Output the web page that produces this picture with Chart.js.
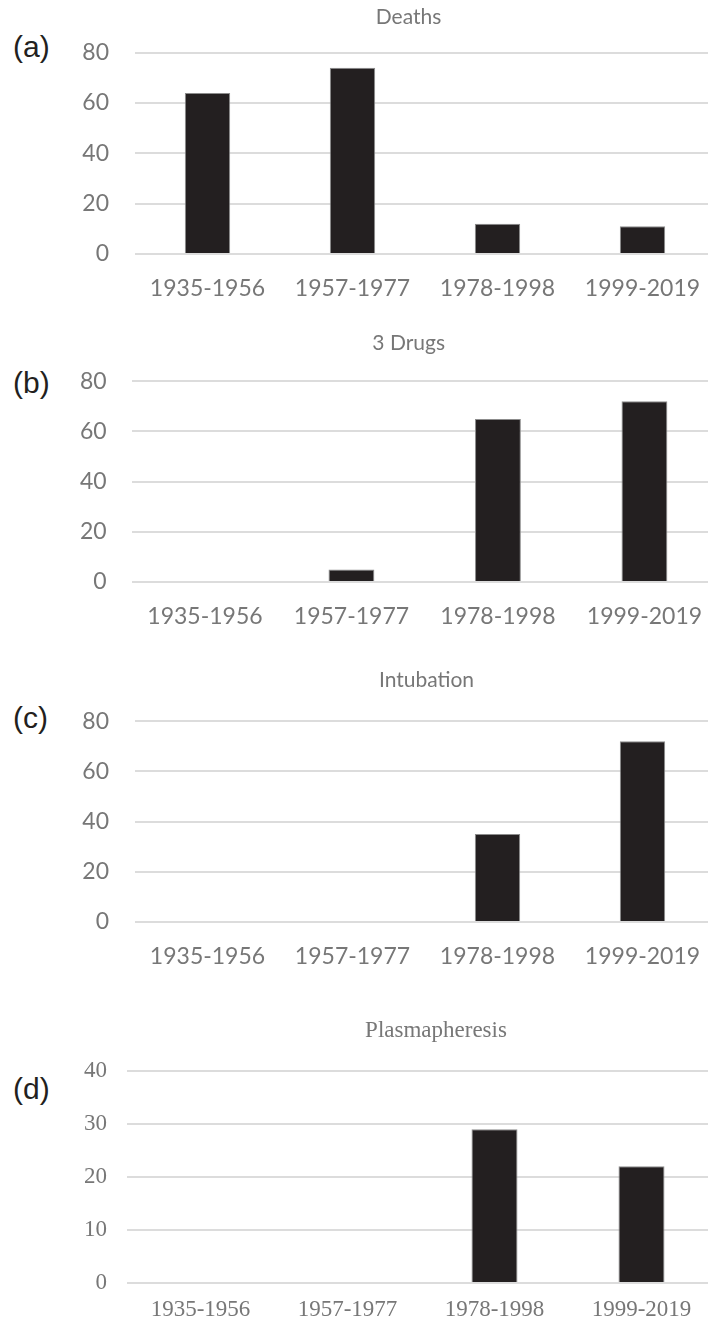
<!DOCTYPE html>
<html>
<head>
<meta charset="utf-8">
<script src="https://cdn.jsdelivr.net/npm/chart.js@4.4.1/dist/chart.umd.min.js"></script>
<style>
    html, body { margin: 0; padding: 0; background: #fff; }
    body { width: 708px; height: 1320px; overflow: hidden; position: relative; }
    canvas { position: absolute; left: 0; }
    .lettre { position: absolute; left: 13px; font: 30px/30px "Liberation Sans", Arial, sans-serif; color: #231f20; }
</style>
</head>
<body>
<div class="lettre" style="top:32px">(a)</div>
<div class="lettre" style="top:368px">(b)</div>
<div class="lettre" style="top:703px">(c)</div>
<div class="lettre" style="top:1074px">(d)</div>

<canvas id="chart-a"></canvas>
<canvas id="chart-b"></canvas>
<canvas id="chart-c"></canvas>
<canvas id="chart-d"></canvas>

<script>
// data
const periodes = ['1935-1956', '1957-1977', '1978-1998', '1999-2019'];
const deces = [64, 74, 12, 11];
const troisMedicaments = [0, 5, 65, 72];
const intubation = [0, 0, 35, 72];
const plasmapherese = [0, 0, 29, 22];

const titres = ['Deaths', '3 Drugs', 'Intubation', 'Plasmapheresis'];
const yMax = [80, 80, 80, 40];
const yStep = [20, 20, 20, 10];

const GRIS = '#777777';
const CANVAS_W = 860;
const PAD_LEFT = 60;

// placement of each panel (pixels in the page)
const panneaux = [
    { id: 'chart-a', values: deces, titleX: 408.5, titleY: 18, top: 53, bottom: 254, labelY: 288.5, left: 135, right: 715, gap: 26, font: 'Lato', size: 23, titleSize: 21 },
    { id: 'chart-b', values: troisMedicaments, titleX: 408.7, titleY: 344, top: 381.7, bottom: 582.5, labelY: 617, left: 131.7, right: 717.7, gap: 25, font: 'Lato', size: 23, titleSize: 21 },
    { id: 'chart-c', values: intubation, titleX: 426.5, titleY: 680.5, top: 721, bottom: 922, labelY: 957, left: 135, right: 715, gap: 26, font: 'Lato', size: 23, titleSize: 21 },
    { id: 'chart-d', values: plasmapherese, titleX: 436, titleY: 1031, top: 1071, bottom: 1283, labelY: 1310, left: 127, right: 715, gap: 20, font: '"Liberation Serif", "Times New Roman", serif', size: 23, titleSize: 23 }
];

const drawPanel = (p, i) => {
    const canvas = document.getElementById(p.id);

    // horizontal: title centred on titleX, plot from left to right
    const yWidth = p.left - PAD_LEFT;
    const rightEdge = 2 * p.titleX - PAD_LEFT;
    const extraRight = rightEdge - p.right;
    const padRight = CANVAS_W - rightEdge;

    // vertical
    const titleLine = p.titleSize * 1.2;
    const titleTopPad = 4;
    const canvasTop = p.titleY - titleTopPad - titleLine / 2;
    const titleBottomPad = p.top - canvasTop - titleTopPad - titleLine;
    const labelLine = p.size * 1.2;
    const xPad = p.labelY - p.bottom - labelLine / 2;
    const canvasH = p.bottom - canvasTop + labelLine + 2 * xPad;

    canvas.width = CANVAS_W;
    canvas.height = Math.round(canvasH);
    canvas.style.top = canvasTop + 'px';

    new Chart(canvas.getContext('2d'), {
        type: 'bar',
        data: {
            labels: periodes,
            datasets: [{
                data: p.values,
                backgroundColor: '#231f20',
                borderColor: '#8c8c8c',
                borderWidth: 1,
                barPercentage: 0.313,
                categoryPercentage: 1
            }]
        },
        options: {
            responsive: false,
            animation: false,
            devicePixelRatio: 1,
            layout: { padding: { left: PAD_LEFT, right: padRight, top: 0, bottom: 0 } },
            plugins: {
                legend: { display: false },
                tooltip: { enabled: false },
                title: {
                    display: true,
                    text: titres[i],
                    color: GRIS,
                    font: { family: p.font, size: p.titleSize, weight: 'normal' },
                    padding: { top: titleTopPad, bottom: titleBottomPad }
                }
            },
            scales: {
                x: {
                    grid: { display: false, drawTicks: false },
                    border: { display: false },
                    ticks: { color: GRIS, font: { family: p.font, size: p.size }, padding: xPad, maxRotation: 0, autoSkip: false }
                },
                y: {
                    min: 0,
                    max: yMax[i],
                    grid: { color: '#dcdcdc', lineWidth: 2, drawTicks: false },
                    border: { display: false },
                    ticks: { stepSize: yStep[i], color: GRIS, font: { family: p.font, size: p.size }, padding: p.gap },
                    afterFit: (scale) => { scale.width = yWidth; }
                },
                yr: {
                    type: 'linear',
                    position: 'right',
                    display: extraRight > 0,
                    grid: { display: false, drawTicks: false },
                    border: { display: false },
                    ticks: { display: false },
                    afterFit: (scale) => { scale.width = extraRight; }
                }
            }
        }
    });
};

panneaux.forEach(drawPanel);
</script>
</body>
</html>
